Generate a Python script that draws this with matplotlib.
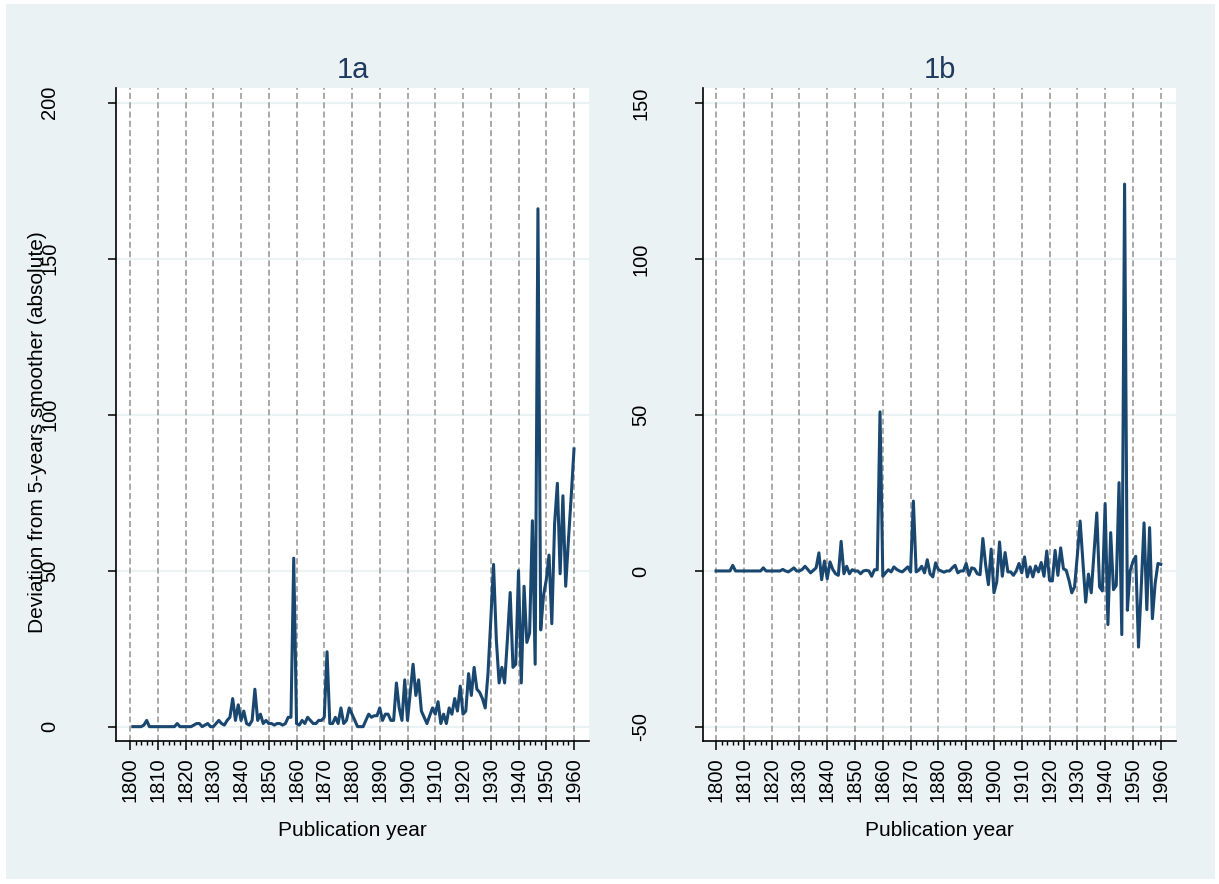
import matplotlib
matplotlib.use("Agg")
import matplotlib.pyplot as plt
from matplotlib.patches import Rectangle

plt.rcParams['font.family'] = ['Liberation Sans', 'DejaVu Sans']
plt.rcParams['lines.scale_dashes'] = False

# ---------------- data ----------------
years_a = list(range(1801, 1961))
values_a = [
    0, 0, 0, 0, 0.5, 2, 0, 0, 0, 0,            # 1801-1810
    0, 0, 0, 0, 0, 0, 1, 0, 0, 0,              # 1811-1820
    0, 0, 0.5, 1, 1, 0, 0.5, 1, 0, 0,          # 1821-1830
    1, 2, 1, 0.5, 2, 3, 9, 2, 7, 2,            # 1831-1840
    5, 1, 0.5, 2, 12, 2, 4, 1, 2, 1,           # 1841-1850
    1, 0.5, 1, 1, 0.5, 1, 3, 3, 54, 1,         # 1851-1860
    0.5, 2, 1, 3, 2, 1, 1, 2, 2, 3,            # 1861-1870
    24, 1, 1, 3, 1, 6, 1, 2, 6, 4,             # 1871-1880
    2, 0, 0, 0, 2, 4, 3, 3.5, 3.5, 6,          # 1881-1890
    2, 4, 4, 2, 2, 14, 6, 2, 15, 2,            # 1891-1900
    11, 20, 10, 15, 5, 3, 1, 3.5, 6, 4,        # 1901-1910
    8, 1, 4, 1, 6, 4, 9, 5, 13, 4,             # 1911-1920
    5, 17, 10, 19, 12, 11, 9, 6, 17, 34,       # 1921-1930
    52, 28, 14, 19, 14, 28, 43, 19, 20, 50,    # 1931-1940
    14, 45, 27, 30, 66, 20, 166, 31, 42, 47,   # 1941-1950
    55, 33, 65, 78, 49, 74, 45, 60, 74, 89,    # 1951-1960
]

years_b = list(range(1800, 1961))
values_b = [
    0,                                                      # 1800
    0, 0, 0, 0, 0, 1.8, 0, 0, 0, 0,                         # 1801-1810
    0, 0, 0, 0, 0, 0, 1, 0, 0, 0,                           # 1811-1820
    0, 0, 0, 0.5, 0, -0.3, 0.3, 1, 0, 0,                    # 1821-1830
    0.5, 1.5, 0.5, -0.6, 0.2, 1, 5.8, -2.8, 3.2, -2.5,      # 1831-1840
    2.9, 0.5, -0.9, -1.4, 9.5, -0.9, 1.5, -0.9, 0.4, 0,     # 1841-1850
    0, -0.9, 0, 0.2, 0, -1.7, 0.4, 0.4, 51, -1.7,           # 1851-1860
    -0.6, 0.4, -0.3, 1.3, 0.5, 0, -0.3, 0.5, 1.3, -0.3,     # 1861-1870
    22.4, -0.3, 0.3, 1.5, -0.6, 3.6, -0.9, -1.9, 2.6, 0.4,  # 1871-1880
    0, -0.4, 0, 0, 1, 1.8, -0.6, 0, 0, 2.4,                 # 1881-1890
    -1.4, 1, 0.7, -0.9, -1.2, 10.4, 2, -4.4, 7, -7,         # 1891-1900
    -3.5, 9.3, -1.7, 5.9, -0.3, -0.3, -1.4, 0, 2.4, -0.6,   # 1901-1910
    4.5, -1.9, 1.3, -1.9, 1.6, -0.3, 2.7, -1.7, 6.4, -3,    # 1911-1920
    -3.2, 6.6, -1.4, 7.4, 0.7, 0.2, -3, -7, -5.1, 5,        # 1921-1930
    16, 3, -10, -1, -7, 6, 18.6, -5.1, -6.4, 21.6,          # 1931-1940
    -17.2, 12.3, -6, -4.6, 28.3, -20.4, 124, -12.6, 0, 3,   # 1941-1950
    4.7, -24.4, -5, 15.4, -12.4, 13.9, -15.3, -4, 2.4, 2.1, # 1951-1960
]

yticks_a = [0, 50, 100, 150, 200]
yticks_b = [-50, 0, 50, 100, 150]
decades = list(range(1800, 1961, 10))

# ---------------- style ----------------
W, H = 1219, 884
BG = '#EAF2F3'
LINE = '#1A476F'
TITLE = '#1E3A5F'

fig = plt.figure(figsize=(W / 100, H / 100), dpi=100, facecolor='white')
fig.patches.append(Rectangle((6 / W, 5 / H), (W - 10) / W, (H - 9) / H,
                             transform=fig.transFigure, facecolor=BG,
                             edgecolor='none', zorder=-10))

def px_axes(left, right, top, bottom):
    return [left / W, 1 - bottom / H, (right - left) / W, (bottom - top) / H]

ax_a = fig.add_axes(px_axes(116, 589, 88, 741))
ax_b = fig.add_axes(px_axes(703, 1176, 88, 741))

def style(ax, years, vals, yticks, ylim, xlim, title, ypad):
    ax.set_facecolor('white')
    for y in yticks:
        ax.axhline(y, color=BG, lw=1.6, zorder=1)
    for d in decades:
        ax.axvline(d, color='#A9A9A9', lw=1.4, linestyle=(0, (4.3, 2.4)), zorder=2)
    ax.plot(years, vals, color=LINE, lw=2.2, zorder=3)
    ax.set_xlim(*xlim)
    ax.set_ylim(*ylim)
    ax.spines['top'].set_visible(False)
    ax.spines['right'].set_visible(False)
    for s in ('left', 'bottom'):
        ax.spines[s].set_linewidth(1.2)
        ax.spines[s].set_color('black')
    ax.set_xticks(decades)
    ax.set_xticklabels([str(d) for d in decades], rotation=90, fontsize=14.5)
    ax.set_xticks(list(range(1800, 1961, 2)), minor=True)
    ax.set_yticks(yticks)
    ax.set_yticklabels([str(y) for y in yticks], rotation=90, fontsize=14.5,
                       va='center')
    ax.tick_params(axis='x', which='major', length=6.5, width=1.1, pad=5)
    ax.tick_params(axis='x', which='minor', length=3, width=1.0)
    ax.tick_params(axis='y', which='major', length=6, width=1.1, pad=ypad)
    ax.set_xlabel('Publication year', fontsize=15, labelpad=14)
    ax.set_title(title, fontsize=21, color=TITLE, pad=7)

style(ax_a, years_a, values_a, yticks_a, (-4.6, 204.7), (1794.95, 1965.4), '1a', 35)
style(ax_b, years_b, values_b, yticks_b, (-54.5, 154.8), (1795.3, 1965.5), '1b', 32)

ax_a.set_ylabel('Deviation from 5-years smoother (absolute)', fontsize=15)
ax_a.yaxis.set_label_coords(-0.146, 0.473)

fig.savefig('out.png', dpi=100, facecolor=fig.get_facecolor())
